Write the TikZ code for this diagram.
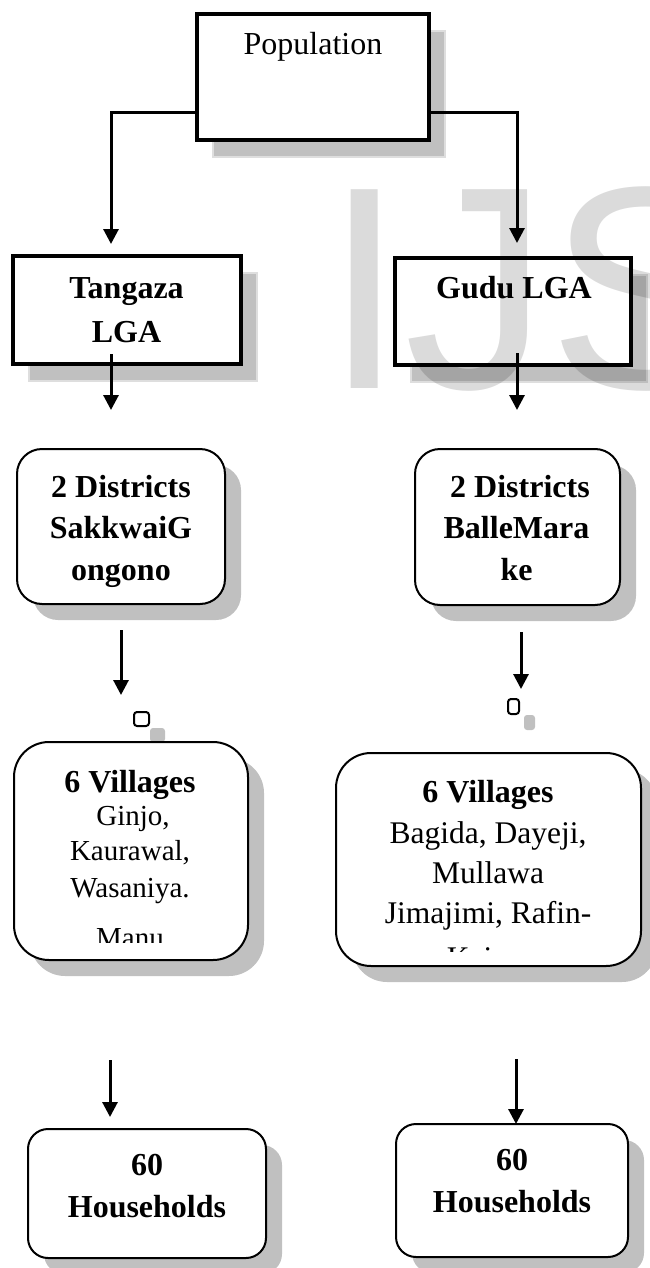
\documentclass[tikz,border=0pt]{standalone}
\usepackage{fontspec}
\setmainfont{Liberation Serif}
\newfontfamily\wmfont{Liberation Sans}
\usetikzlibrary{arrows.meta,shadows,calc}
\definecolor{shadowgray}{RGB}{192,192,192}
\definecolor{shadowedge}{RGB}{222,222,222}
\tikzset{
  every node/.style={inner sep=0pt, outer sep=0pt},
  sharpbox/.style={draw=black, line width=4pt, fill=white,
    drop shadow={shadow xshift=16pt, shadow yshift=-17pt, fill=shadowgray,
      draw=shadowedge, line width=1.2pt, opacity=1}},
  roundbox/.style={draw=black, line width=2pt, fill=white,
    drop shadow={shadow xshift=16pt, shadow yshift=-16pt, fill=shadowgray, opacity=1}},
  conn/.style={line width=3pt, -{Triangle[width=15pt,length=15pt]}},
  bftext/.style={font=\fontsize{32}{38}\selectfont\bfseries, anchor=base},
  rmtext/.style={font=\fontsize{32}{38}\selectfont, anchor=base},
  rmsmall/.style={font=\fontsize{29}{34}\selectfont, anchor=base},
  rmmid/.style={font=\fontsize{31.5}{37}\selectfont, anchor=base},
}
\begin{document}
\begin{tikzpicture}[x=1pt,y=-1pt]
\useasboundingbox (0,0) rectangle (650,1268);

% boxes
\node[sharpbox, minimum width=232pt, minimum height=126pt] (pop) at (313,77) {};
\node[sharpbox, minimum width=228pt, minimum height=108pt] (tang) at (127,310) {};
\node[sharpbox, minimum width=236pt, minimum height=107pt] (gudu) at (513,311.5) {};
\node[roundbox, rounded corners=25pt, minimum width=208pt, minimum height=155pt] (dl) at (121,526.5) {};
\node[roundbox, rounded corners=25pt, minimum width=205pt, minimum height=156pt] (dr) at (517.5,527) {};
\node[roundbox, rounded corners=3pt, minimum width=15pt, minimum height=14pt] (ql) at (141.5,719) {};
\node[roundbox, rounded corners=3pt, minimum width=11pt, minimum height=15pt] (qr) at (513.5,706.5) {};
\node[roundbox, rounded corners=35pt, minimum width=234pt, minimum height=218pt] (vl) at (131,851) {};
\node[roundbox, rounded corners=35pt, minimum width=305pt, minimum height=213pt] (vr) at (488.5,859.5) {};
\node[roundbox, rounded corners=20pt, minimum width=238pt, minimum height=129pt] (hl) at (147,1193.5) {};
\node[roundbox, rounded corners=20pt, minimum width=232pt, minimum height=133pt] (hr) at (512,1190.5) {};

% texts
\node[rmtext] (tpop) at (313,55) {Population};
\node[bftext] (ttang1) at (126.5,298) {Tangaza};
\node[bftext] (ttang2) at (126.5,342) {LGA};
\node[bftext] (tgudu) at (514,298) {Gudu LGA};

\node[bftext] (tdl1) at (121,497) {2 Districts};
\node[bftext] (tdl2) at (121,538) {SakkwaiG};
\node[bftext] (tdl3) at (121,580) {ongono};
\node[bftext] (tdr1) at (520,497) {2 Districts};
\node[bftext] (tdr2) at (516.5,538) {BalleMara};
\node[bftext] (tdr3) at (516.5,580) {ke};

\node[bftext] (tvl1) at (130,792) {6 Villages};
\node[rmsmall] (tvl2) at (133,825) {Ginjo,};
\node[rmsmall] (tvl3) at (130,860) {Kaurawal,};
\node[rmsmall] (tvl4) at (130,897) {Wasaniya.};
\begin{scope}
  \clip (20,900) rectangle (240,942);
  \node[rmsmall] (tvl5) at (130,947) {Manu};
\end{scope}

\node[bftext] (tvr1) at (488,802) {6 Villages};
\node[rmmid] (tvr2) at (488,843) {Bagida, Dayeji,};
\node[rmmid] (tvr3) at (488,883) {Mullawa};
\node[rmmid] (tvr4) at (488,923) {Jimajimi, Rafin-};
\begin{scope}
  \clip (345,930) rectangle (630,951);
  \node[rmmid] (tvr5) at (488,968) {Kaiwa};
\end{scope}

\node[bftext] (thl1) at (147,1175) {60};
\node[bftext] (thl2) at (147,1217) {Households};
\node[bftext] (thr1) at (512,1170) {60};
\node[bftext] (thr2) at (512,1212) {Households};

% connectors
\draw[conn] ([yshift=-36pt]pop.west) -| ([xshift=-16pt,yshift=12pt]tang.north);
\draw[conn] ([yshift=-36pt]pop.east) -| ([xshift=4pt,yshift=15pt]gudu.north);

\coordinate (a1) at (111,410);
\coordinate (a2) at (517,410);
\draw[conn] ([xshift=-16pt,yshift=10pt]tang.south) -- (a1);
\draw[conn] ([xshift=4pt,yshift=12pt]gudu.south) -- (a2);

\coordinate (b1s) at (121,630);
\coordinate (b1e) at (121,695);
\coordinate (b2s) at (521,632);
\coordinate (b2e) at (521,689);
\draw[conn] (b1s) -- (b1e);
\draw[conn] (b2s) -- (b2e);

\coordinate (c1s) at (110,1060);
\coordinate (c2s) at (516,1059);
\draw[conn] (c1s) -- ([xshift=-37pt,yshift=12pt]hl.north);
\draw[conn] (c2s) -- ([xshift=4pt]hr.north);

% watermark
\begin{scope}
  \clip (0,0) rectangle (650,1268);
  \node[anchor=base west, font=\wmfont\fontsize{289}{300}\selectfont,
        text=black, text opacity=0.14] (wm) at (324,388) {IJS};
\end{scope}
\end{tikzpicture}
\end{document}
